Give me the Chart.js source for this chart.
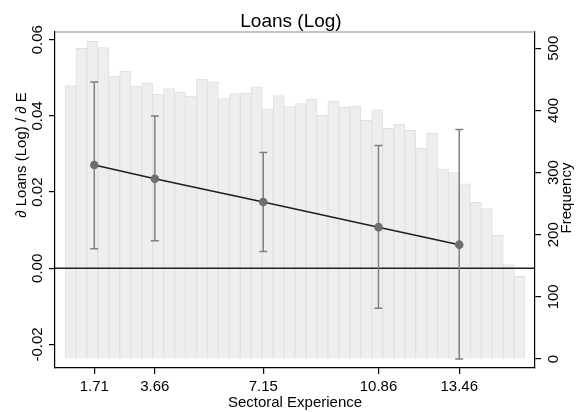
<!DOCTYPE html>
<html lang="en">
<head>
  <meta charset="UTF-8">
  <title>Loans (Log)</title>
  <script src="https://cdn.jsdelivr.net/npm/chart.js"></script>
</head>
<style>
  body { margin: 0; background: #fff; }
  #grafico { display: block; }
</style>
<body>
  <canvas id="grafico" width="576" height="412"></canvas>
</body>
<script>
  // marginal effect of experience on loans (log), with 95% CI
  const expPoints = [1.71, 3.66, 7.15, 10.86, 13.46];
  const effect = [0.0271, 0.0235, 0.0174, 0.0108, 0.0062];
  const ciLow = [0.0051, 0.0072, 0.0044, -0.0105, -0.0238];
  const ciHigh = [0.0489, 0.0400, 0.0304, 0.0322, 0.0364];

  // histogram of sectoral experience (right axis)
  const binStart = 0.767;
  const binWidth = 0.3528;
  const frequency = [440, 500, 511, 501, 455, 463, 439, 444, 426, 435, 429, 423, 450, 446,
    419, 427, 428, 438, 402, 424, 406, 411, 418, 392, 415, 405, 407, 384,
    401, 371, 378, 368, 339, 364, 306, 300, 282, 252, 242, 199, 152, 133];
  const binCenters = frequency.map((_, i) => binStart + binWidth * (i + 0.5));

  // tick labels
  const xTicks = [1.71, 3.66, 7.15, 10.86, 13.46];
  const yTicks = [-0.02, 0, 0.02, 0.04, 0.06];
  const freqTicks = [0, 100, 200, 300, 400, 500];

  const FONT = "'Liberation Sans', Arial, sans-serif";

  const rotText = (ctx, txt, x, y, size) => {
    ctx.save();
    ctx.translate(x, y);
    ctx.rotate(-Math.PI / 2);
    ctx.font = size + 'px ' + FONT;
    ctx.fillStyle = '#000';
    ctx.textAlign = 'center';
    ctx.textBaseline = 'middle';
    ctx.fillText(txt, 0, 0);
    ctx.restore();
  };

  const extras = {
    id: 'extras',
    afterDatasetDraw(chart, args) {
      if (args.index !== 1) return;
      // linea horizontal en cero
      const {ctx, chartArea} = chart;
      const y0 = chart.scales.y.getPixelForValue(0);
      ctx.save();
      ctx.strokeStyle = '#222';
      ctx.lineWidth = 1.4;
      ctx.beginPath();
      ctx.moveTo(chartArea.left, y0);
      ctx.lineTo(chartArea.right, y0);
      ctx.stroke();
      ctx.restore();
    },
    beforeDatasetDraw(chart, args) {
      if (args.index !== 0) return;
      // barras de error
      const {ctx} = chart;
      const xs = chart.scales.x, ys = chart.scales.y;
      ctx.save();
      ctx.strokeStyle = '#808080';
      ctx.lineWidth = 1.5;
      expPoints.forEach((v, i) => {
        const px = xs.getPixelForValue(v);
        const lo = ys.getPixelForValue(ciLow[i]);
        const hi = ys.getPixelForValue(ciHigh[i]);
        ctx.beginPath();
        ctx.moveTo(px, lo); ctx.lineTo(px, hi);
        ctx.moveTo(px - 4, lo); ctx.lineTo(px + 4, lo);
        ctx.moveTo(px - 4, hi); ctx.lineTo(px + 4, hi);
        ctx.stroke();
      });
      ctx.restore();
    },
    afterDraw(chart) {
      const {ctx, chartArea} = chart;
      // borde superior
      ctx.save();
      ctx.strokeStyle = '#8c8c8c';
      ctx.lineWidth = 1.2;
      ctx.beginPath();
      ctx.moveTo(chartArea.left, chartArea.top);
      ctx.lineTo(chartArea.right, chartArea.top);
      ctx.stroke();
      ctx.restore();

      ctx.save();
      ctx.font = '19px ' + FONT;
      ctx.fillStyle = '#000';
      ctx.textAlign = 'center';
      ctx.textBaseline = 'alphabetic';
      ctx.fillText('Loans (Log)', 291, 27);
      ctx.restore();

      yTicks.forEach(v => rotText(ctx, v.toFixed(2), 37.5, chart.scales.y.getPixelForValue(v), 15));
      freqTicks.forEach(v => rotText(ctx, String(v), 554, chart.scales.y2.getPixelForValue(v), 15));
      rotText(ctx, '\u2202 Loans (Log) / \u2202 E', 22, 155, 15);
      rotText(ctx, 'Frequency', 567, 198, 15);
    }
  };

  const ctx = document.getElementById('grafico').getContext('2d');
  const chart = new Chart(ctx, {
    type: 'line',
    data: {
      datasets: [{
        type: 'line',
        label: 'Effect',
        data: expPoints.map((x, i) => ({x: x, y: effect[i]})),
        yAxisID: 'y',
        borderColor: '#1e1e1e',
        borderWidth: 1.5,
        pointRadius: 4.3,
        pointBackgroundColor: '#6e6e6e',
        pointBorderWidth: 0,
        order: 1
      }, {
        type: 'bar',
        label: 'Frequency',
        data: binCenters.map((x, i) => ({x: x, y: frequency[i]})),
        yAxisID: 'y2',
        backgroundColor: '#eeeeee',
        borderColor: '#e1e1e1',
        borderWidth: 1,
        categoryPercentage: 1,
        barPercentage: 1,
        order: 2
      }]
    },
    options: {
      responsive: false,
      animation: false,
      devicePixelRatio: 1,
      layout: {padding: {top: 32, left: 0, right: 0, bottom: 0}},
      plugins: {legend: {display: false}, tooltip: {enabled: false}},
      scales: {
        x: {
          type: 'linear',
          position: 'bottom',
          min: 0.445,
          max: 15.9,
          offset: false,
          border: {color: '#000', width: 1.2},
          grid: {drawOnChartArea: false, drawTicks: true, tickLength: 6, color: '#000', lineWidth: 1.2, offset: false},
          ticks: {font: {family: FONT, size: 15}, color: '#000', padding: 4, maxRotation: 0, autoSkip: false,
            callback: v => v.toFixed(2)},
          afterBuildTicks: s => { s.ticks = xTicks.map(v => ({value: v})); },
          afterFit: s => { s.height = 44; },
          title: {display: true, text: 'Sectoral Experience', color: '#000',
            font: {family: FONT, size: 15}, padding: {top: 0, bottom: 0}}
        },
        y: {
          position: 'left',
          min: -0.02617,
          max: 0.06202,
          border: {color: '#000', width: 1.2},
          grid: {drawOnChartArea: false, drawTicks: true, tickLength: 6, color: '#000', lineWidth: 1.2},
          ticks: {display: false},
          afterBuildTicks: s => { s.ticks = yTicks.map(v => ({value: v})); },
          afterFit: s => { s.width = 55; }
        },
        y2: {
          position: 'right',
          min: -14.5,
          max: 526.2,
          border: {color: '#000', width: 1.2},
          grid: {drawOnChartArea: false, drawTicks: true, tickLength: 6, color: '#000', lineWidth: 1.2},
          ticks: {display: false},
          afterBuildTicks: s => { s.ticks = freqTicks.map(v => ({value: v})); },
          afterFit: s => { s.width = 41; }
        }
      }
    },
    plugins: [extras]
  });
</script>
</html>
